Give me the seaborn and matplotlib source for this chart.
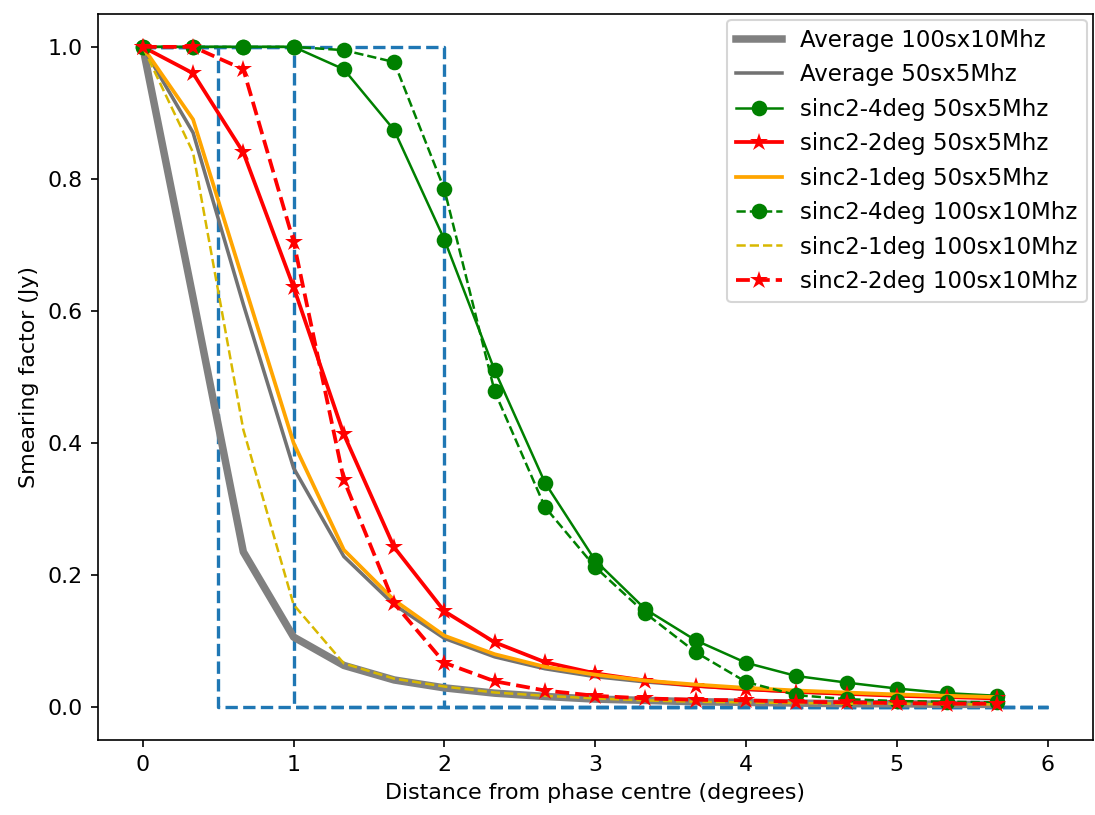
import numpy as np
import pandas as pd
import matplotlib
matplotlib.use("Agg")
import matplotlib.pyplot as plt
import seaborn as sns

# distance grid (degrees)
dist = [0, 1/3, 2/3, 1, 4/3, 5/3, 2, 7/3, 8/3, 3, 10/3, 11/3, 4, 13/3, 14/3, 5, 16/3, 17/3]

avg_100s = [1.0, 0.62, 0.235, 0.106, 0.063, 0.041, 0.029, 0.021, 0.016, 0.012, 0.010,
            0.008, 0.007, 0.006, 0.005, 0.005, 0.004, 0.004]
avg_50s = [1.0, 0.87, 0.61, 0.362, 0.228, 0.155, 0.104, 0.076, 0.058, 0.046, 0.038,
           0.032, 0.027, 0.023, 0.020, 0.018, 0.016, 0.014]
sinc4_50s = [1.0, 1.0, 1.0, 1.0, 0.966, 0.874, 0.708, 0.51, 0.34, 0.222, 0.148,
             0.101, 0.067, 0.047, 0.037, 0.028, 0.021, 0.017]
sinc2_50s = [1.0, 0.96, 0.84, 0.636, 0.413, 0.242, 0.145, 0.098, 0.068, 0.051, 0.040,
             0.032, 0.027, 0.023, 0.020, 0.017, 0.015, 0.013]
sinc1_50s = [1.0, 0.89, 0.645, 0.40, 0.238, 0.162, 0.108, 0.080, 0.061, 0.049, 0.040,
             0.034, 0.029, 0.025, 0.022, 0.019, 0.017, 0.015]
sinc4_100s = [1.0, 1.0, 1.0, 1.0, 0.995, 0.977, 0.784, 0.478, 0.303, 0.212, 0.142,
              0.083, 0.038, 0.018, 0.012, 0.009, 0.008, 0.007]
sinc1_100s = [1.0, 0.84, 0.42, 0.155, 0.066, 0.043, 0.031, 0.022, 0.017, 0.013, 0.010,
              0.008, 0.007, 0.006, 0.005, 0.005, 0.004, 0.004]
sinc2_100s = [1.0, 1.0, 0.966, 0.705, 0.344, 0.157, 0.067, 0.039, 0.025, 0.017, 0.013,
              0.011, 0.010, 0.008, 0.007, 0.006, 0.005, 0.005]

# top-hat reference windows (half widths in degrees)
tophat_widths = [0.5, 1.0, 2.0]
tophat_x_end = 6.0

plt.rcParams["font.size"] = 10.6

fig, ax = plt.subplots(figsize=(1095 / 150, 815 / 150), dpi=150)
fig.subplots_adjust(left=0.0891, right=0.998, bottom=0.092, top=0.983)

common = dict(ax=ax, estimator=None, sort=False, errorbar=None)

for w in tophat_widths:
    tx = [0, w, w, tophat_x_end]
    ty = [1, 1, 0, 0]
    sns.lineplot(x=tx, y=ty, color="#1f77b4", linestyle="--", linewidth=1.6,
                 label="_nolegend_", **common)

series = [
    (avg_100s, "Average 100sx10Mhz", dict(color="grey", linewidth=3.6)),
    (avg_50s, "Average 50sx5Mhz", dict(color="#727272", linewidth=1.7)),
    (sinc4_50s, "sinc2-4deg 50sx5Mhz", dict(color="green", linewidth=1.2, marker="o", markersize=7.5)),
    (sinc2_50s, "sinc2-2deg 50sx5Mhz", dict(color="red", linewidth=1.8, marker="*", markersize=9)),
    (sinc1_50s, "sinc2-1deg 50sx5Mhz", dict(color="orange", linewidth=1.8)),
    (sinc4_100s, "sinc2-4deg 100sx10Mhz", dict(color="green", linewidth=1.2, linestyle="--", marker="o", markersize=7.5)),
    (sinc1_100s, "sinc2-1deg 100sx10Mhz", dict(color="#d8b800", linewidth=1.2, linestyle="--")),
    (sinc2_100s, "sinc2-2deg 100sx10Mhz", dict(color="red", linewidth=1.8, linestyle="--", marker="*", markersize=9)),
]

for vals, lab, kw in series:
    sns.lineplot(x=dist, y=vals, label=lab, markeredgewidth=0, **kw, **common)

ax.set_xlim(-0.3, 6.3)
ax.set_ylim(-0.05, 1.05)
ax.set_xticks([0, 1, 2, 3, 4, 5, 6])
ax.set_xlabel("Distance from phase centre (degrees)")
ax.set_ylabel("Smearing factor (Jy)")
ax.legend(loc="upper right", fontsize=11, borderaxespad=0.25)

fig.savefig("out.png", dpi=150)
